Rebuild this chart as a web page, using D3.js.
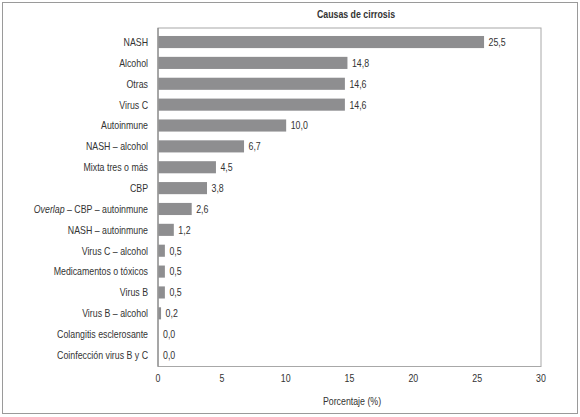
<!DOCTYPE html>
<meta charset="utf-8">
<head>
  <script src="https://d3js.org/d3.v7.min.js"></script>
  <style>
    body { margin: 0; background: #fff; }
    text { font-family: "Liberation Sans", Arial, sans-serif; fill: #333; font-size: 11px; }
  </style>
</head>
<body>
<div id="container"></div>
<script>

var causes = ["NASH", "Alcohol", "Otras", "Virus C", "Autoinmune", "NASH – alcohol",
  "Mixta tres o más", "CBP", "Overlap – CBP – autoinmune", "NASH – autoinmune",
  "Virus C – alcohol", "Medicamentos o tóxicos", "Virus B", "Virus B – alcohol",
  "Colangitis esclerosante", "Coinfección virus B y C"];
var percents = [25.5, 14.8, 14.6, 14.6, 10.0, 6.7, 4.5, 3.8, 2.6, 1.2, 0.5, 0.5, 0.5, 0.2, 0.0, 0.0];
var xTicks = [0, 5, 10, 15, 20, 25, 30];

var width = 580, height = 417;
var plot = { left: 158, right: 541, top: 28, bottom: 366.5 };
var narrow = 0.8; // the original uses a condensed face

var svg = d3.select("#container").append("svg")
  .attr("width", width)
  .attr("height", height);

// place a text squeezed horizontally around its anchor point
function label(px, py) {
  return svg.append("text")
    .attr("transform", "translate(" + px + "," + py + ") scale(" + narrow + ",1)");
}

// outer frame
svg.append("rect")
  .attr("x", 2.5).attr("y", 2.5)
  .attr("width", 575).attr("height", 411)
  .attr("fill", "none").attr("stroke", "#9a9a9a");

var x = d3.scaleLinear().domain([0, 30]).range([plot.left, plot.right]);
var y = d3.scaleBand().domain(causes).range([31.6, 365.5]).paddingInner(0.42).paddingOuter(0.21);

// plot box
svg.append("rect")
  .attr("x", plot.left).attr("y", plot.top)
  .attr("width", plot.right - plot.left).attr("height", plot.bottom - plot.top)
  .attr("fill", "none").attr("stroke", "#a8a8a8");

svg.selectAll(".bar")
  .data(causes)
  .enter().append("rect")
  .attr("class", "bar")
  .attr("x", x(0) + 0.5)
  .attr("y", function (d) { return y(d); })
  .attr("width", function (d, i) { return Math.max(0, x(percents[i]) - x(0)); })
  .attr("height", y.bandwidth())
  .attr("fill", "#8e8e90");

// left axis line
svg.append("line")
  .attr("x1", plot.left).attr("x2", plot.left)
  .attr("y1", plot.top).attr("y2", plot.bottom)
  .attr("stroke", "#7a7a7a");

var fmt = function (v) { return v.toFixed(1).replace(".", ","); };

causes.forEach(function (d, i) {
  var cy = y(d) + y.bandwidth() / 2;

  label(x(percents[i]) + 5, cy)
    .attr("dy", "0.35em")
    .text(fmt(percents[i]));

  var t = label(plot.left - 10, cy)
    .attr("dy", "0.35em")
    .attr("text-anchor", "end");
  if (d.indexOf("Overlap") === 0) {
    t.append("tspan").attr("font-style", "italic").text("Overlap");
    t.append("tspan").text(d.slice(7));
  } else {
    t.text(d);
  }
});

// x tick labels
xTicks.forEach(function (v) {
  label(x(v), 382).attr("text-anchor", "middle").text(v);
});

label(352, 405).attr("text-anchor", "middle").text("Porcentaje (%)");

label(356, 18)
  .attr("text-anchor", "middle")
  .attr("font-weight", "bold")
  .text("Causas de cirrosis");

</script>
</body>
